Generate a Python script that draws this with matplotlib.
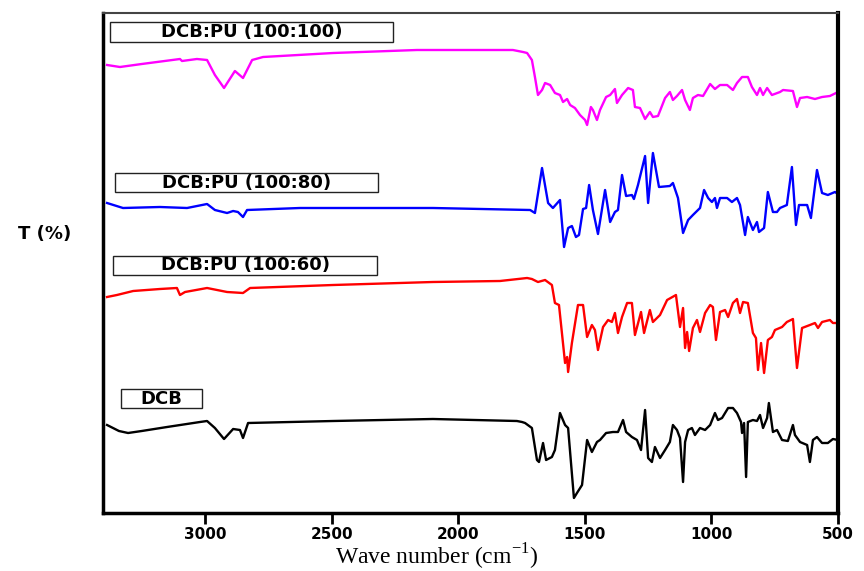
import numpy as np
import matplotlib
matplotlib.use('Agg')
import matplotlib.pyplot as plt
from matplotlib.patches import Rectangle

plt.rcParams['mathtext.fontset'] = 'custom'
plt.rcParams['mathtext.rm'] = 'Liberation Serif'

# FTIR spectra: wavenumber (cm-1) and stacked transmittance (arb. units)
wn_pu100 = [3387, 3336, 3250, 3099, 3091, 3032, 2992, 2961, 2925, 2882, 2850, 2814, 2771, 2494,
            2163, 1784, 1744, 1728, 1709, 1697, 1685, 1669, 1657, 1637, 1618, 1598, 1586, 1570,
            1558, 1539, 1519, 1499, 1491, 1476, 1468, 1452, 1440, 1416, 1400, 1381, 1373, 1353,
            1329, 1310, 1302, 1282, 1262, 1243, 1231, 1211, 1183, 1164, 1152, 1136, 1116, 1104,
            1085, 1073, 1053, 1033, 1005, 986, 966, 938, 915, 899, 879, 856, 840, 820, 808, 796,
            780, 761, 729, 717, 678, 662, 650, 622, 591, 563, 532, 500]
t_pu100 = [448, 446, 449, 454, 452, 454, 453, 438, 425, 442, 435, 453, 456, 460,
           463, 463, 461, 460, 453, 436, 418, 423, 430, 428, 420, 418, 411, 414,
           408, 405, 398, 393, 388, 406, 403, 393, 403, 416, 418, 424, 410, 418,
           425, 423, 406, 405, 394, 401, 396, 397, 415, 421, 413, 417, 423, 413,
           403, 415, 418, 417, 429, 424, 428, 428, 423, 430, 436, 436, 426, 418, 425, 418,
           425, 418, 421, 423, 422, 406, 415, 416, 414, 416, 417, 421]

wn_pu80 = [3387, 3324, 3178, 3071, 2992, 2961, 2913, 2889, 2870, 2850, 2834, 2625, 2100, 1716,
           1697, 1669, 1645, 1626, 1598, 1582, 1566, 1551, 1535, 1523, 1507, 1495, 1483, 1468,
           1448, 1420, 1400, 1381, 1369, 1353, 1337, 1314, 1306, 1290, 1262, 1250, 1231, 1207,
           1164, 1152, 1132, 1112, 1092, 1073, 1045, 1029, 1013, 998, 986, 978, 966, 938, 919,
           899, 887, 867, 856, 836, 820, 812, 792, 777, 757, 741, 729, 702, 682, 666, 654, 622,
           607, 583, 563, 540, 512, 500]
t_pu80 = [310, 305, 306, 305, 309, 303, 300, 302, 301, 296, 303, 305, 305, 303,
          300, 345, 310, 305, 313, 266, 285, 287, 276, 278, 304, 305, 328, 303,
          279, 323, 291, 301, 303, 338, 317, 318, 314, 328, 357, 310, 360, 326,
          327, 330, 315, 280, 293, 298, 305, 323, 315, 311, 315, 305, 315, 315, 311,
          315, 308, 278, 296, 283, 291, 281, 285, 321, 301, 301, 305, 308, 346, 288, 308, 308,
          295, 343, 320, 318, 321, 319]

wn_pu60 = [3387, 3348, 3284, 3178, 3111, 3099, 3079, 2992, 2913, 2850, 2822, 2494, 2100, 1835,
           1728, 1709, 1685, 1657, 1630, 1618, 1602, 1578, 1570, 1566, 1551, 1527, 1507, 1491,
           1472, 1460, 1448, 1428, 1408, 1393, 1381, 1369, 1353, 1333, 1314, 1302, 1278, 1266,
           1243, 1231, 1203, 1175, 1140, 1124, 1112, 1104, 1096, 1088, 1073, 1057, 1045, 1025,
           1005, 994, 982, 966, 946, 934, 915, 899, 887, 875, 856, 836, 824, 816, 804, 792, 777,
           761, 749, 721, 702, 678, 662, 642, 611, 591, 579, 563, 532, 520, 500]
t_pu60 = [216, 218, 222, 224, 225, 218, 221, 225, 221, 220, 225, 228, 231, 232,
          235, 234, 231, 233, 228, 210, 208, 150, 156, 141, 170, 208, 208, 176,
          188, 183, 163, 186, 193, 191, 200, 180, 196, 210, 210, 178, 201, 180,
          203, 191, 198, 213, 218, 186, 205, 165, 181, 162, 185, 193, 181, 200,
          208, 206, 173, 201, 203, 196, 210, 214, 200, 211, 210, 180, 175, 143, 170, 140, 173,
          176, 183, 186, 191, 194, 145, 185, 188, 190, 185, 191, 193, 190, 190]

wn_dcb = [3387, 3340, 3304, 3250, 3150, 3020, 2992, 2961, 2925, 2889, 2862, 2850, 2830, 2494,
          2100, 1768, 1748, 1736, 1709, 1689, 1681, 1665, 1653, 1630, 1618, 1598, 1578, 1566,
          1543, 1531, 1511, 1491, 1472, 1452, 1440, 1416, 1389, 1369, 1349, 1337, 1314, 1294,
          1278, 1262, 1250, 1235, 1223, 1203, 1183, 1164, 1152, 1136, 1124, 1112, 1104, 1092,
          1077, 1065, 1045, 1025, 1005, 986, 974, 958, 934, 915, 899, 883, 879, 871, 863, 856,
          836, 820, 808, 796, 780, 773, 757, 741, 721, 698, 678, 670, 650, 622, 611, 599, 583,
          563, 540, 520, 500]
t_dcb = [88, 82, 80, 82, 86, 91, 92, 85, 74, 84, 83, 75, 90, 92,
         94, 92, 91, 90, 85, 53, 51, 70, 53, 56, 63, 100, 88, 85,
         15, 20, 28, 73, 61, 71, 73, 80, 81, 81, 93, 81, 76, 73,
         63, 103, 55, 51, 66, 55, 63, 71, 88, 83, 75, 31, 71, 83,
         85, 78, 85, 83, 88, 100, 93, 95, 105, 105, 100, 91, 80, 90, 36, 91,
         93, 92, 98, 85, 95, 110, 81, 83, 73, 72, 88, 78, 71, 68, 51, 73, 76,
         70, 70, 74, 73]

labels = ['DCB:PU (100:100)', 'DCB:PU (100:80)', 'DCB:PU (100:60)', 'DCB']
colors = ['#ff00ff', '#0000ff', '#ff0000', '#000000']
# label boxes: (wn left, wn right, y bottom, y top)
boxes = [(3375, 2258, 471, 491), (3355, 2317, 321, 340),
         (3363, 2321, 238, 257), (3332, 3012, 105, 124)]

fig = plt.figure(figsize=(8.64, 5.71), dpi=100)
ax = fig.add_axes([103 / 864, 1 - 513 / 571, 735 / 864, 500 / 571])

series = [(wn_pu100, t_pu100), (wn_pu80, t_pu80), (wn_pu60, t_pu60), (wn_dcb, t_dcb)]
for (x, y), c in zip(series, colors):
    ax.plot(x, y, color=c, lw=1.7, solid_joinstyle='round')

for lab, (x0, x1, y0, y1) in zip(labels, boxes):
    ax.add_patch(Rectangle((x0, y0), x1 - x0, y1 - y0, fc='white', ec='#222222', lw=1.0))
    ax.text((x0 + x1) / 2, (y0 + y1) / 2, lab, ha='center', va='center', fontsize=13,
            fontweight='bold', family='DejaVu Sans')

ax.set_xlim(3403, 500)
ax.set_ylim(0, 500)
ax.set_yticks([])
ax.set_xticks([3000, 2500, 2000, 1500, 1000, 500])
ax.tick_params(axis='x', direction='out', length=8, width=2, pad=2, top=False)
for t in ax.get_xticklabels():
    t.set_fontweight('bold')
    t.set_fontsize(11)
    t.set_family('DejaVu Sans')

for side, lw, col in [('left', 2.5, 'black'), ('bottom', 2.5, 'black'),
                      ('right', 3, 'black'), ('top', 1.5, '#444444')]:
    ax.spines[side].set_linewidth(lw)
    ax.spines[side].set_color(col)

fig.text(45 / 864, 1 - 234 / 571, 'T (%)', ha='center', va='center', fontsize=13,
         fontweight='bold', family='DejaVu Sans')
fig.text(437 / 864, 1 - 565 / 571, 'Wave number (cm$^{-1}$)', ha='center', va='baseline',
         fontsize=17, family='Liberation Serif')

fig.savefig('out.png', dpi=100)
